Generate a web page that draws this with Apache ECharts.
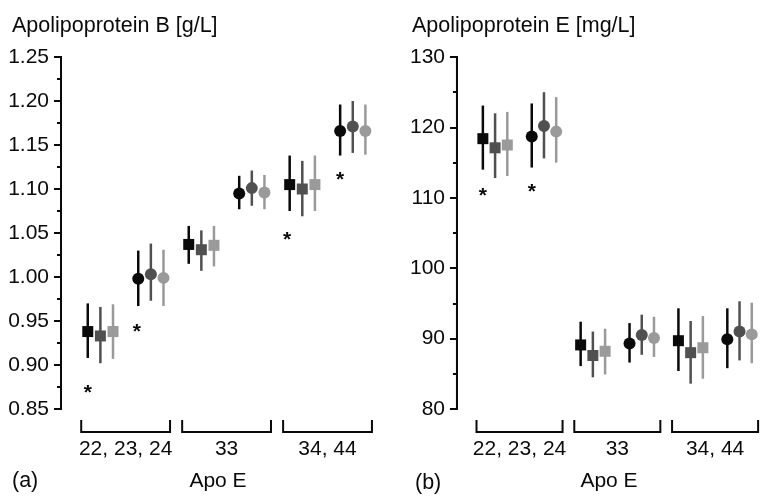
<!DOCTYPE html>
<html>
<head>
<meta charset="utf-8">
<title>Apolipoprotein B / E</title>
<script src="https://cdn.jsdelivr.net/npm/echarts@6/dist/echarts.min.js"></script>
<style>
    html, body { margin: 0; padding: 0; background: #fff; }
    #main { width: 763px; height: 497px; }
</style>
</head>
<body>
<div id="main"></div>
<script>
// Apo E phenotype groups
var groups = ['22, 23, 24', '33', '34, 44'];
// marker position inside a group (squares then circles, black/dark/light)
var offsets = [-0.375, -0.25, -0.125, 0.125, 0.25, 0.375];
var shapes = ['rect', 'rect', 'rect', 'circle', 'circle', 'circle'];
var colors = ['#0a0a0a', '#505050', '#9a9a9a', '#0a0a0a', '#505050', '#9a9a9a'];

// Apolipoprotein B [g/L]: one row per marker, one value per group
var apoBMean = [
    [0.938, 1.037, 1.105],
    [0.933, 1.031, 1.100],
    [0.938, 1.036, 1.105],
    [0.998, 1.095, 1.166],
    [1.003, 1.101, 1.171],
    [0.999, 1.096, 1.166]
];
var apoBLow = [
    [0.908, 1.015, 1.075],
    [0.902, 1.007, 1.069],
    [0.907, 1.012, 1.075],
    [0.967, 1.077, 1.138],
    [0.973, 1.081, 1.141],
    [0.967, 1.077, 1.139]
];
var apoBHigh = [
    [0.970, 1.058, 1.138],
    [0.966, 1.053, 1.132],
    [0.969, 1.058, 1.138],
    [1.030, 1.115, 1.196],
    [1.038, 1.121, 1.200],
    [1.031, 1.116, 1.196]
];
// asterisks: [group offset, value]
var apoBStars = [[-0.375, 0.8735], [0.11, 0.9435], [1.6, 1.048], [2.125, 1.116]];

// Apolipoprotein E [mg/L]
var apoEMean = [
    [118.4, 89.1, 89.7],
    [117.1, 87.6, 88.0],
    [117.5, 88.2, 88.7],
    [118.7, 89.3, 89.9],
    [120.2, 90.5, 91.0],
    [119.4, 90.1, 90.6]
];
var apoELow = [
    [114.0, 86.1, 85.4],
    [112.8, 84.5, 83.6],
    [113.1, 84.9, 84.3],
    [114.3, 86.6, 85.8],
    [115.6, 87.7, 86.9],
    [115.0, 87.4, 86.5]
];
var apoEHigh = [
    [123.1, 92.4, 94.3],
    [122.0, 91.0, 92.5],
    [122.2, 91.4, 93.2],
    [123.4, 92.2, 94.3],
    [125.0, 93.4, 95.3],
    [124.3, 93.1, 95.1]
];
var apoEStars = [[-0.375, 111.0], [0.125, 111.5]];

var font = 'Liberation Sans, Arial, sans-serif';
var ink = '#0a0a0a';
// the y axis sits on x = 0, the first group sits this far to the right
var lead = 0.64;

function pointSeries(panel, i, mean, low, high) {
    return {
        type: 'custom',
        xAxisIndex: panel,
        yAxisIndex: panel,
        encode: { x: 0, y: 1 },
        data: groups.map(function (g, j) {
            return [lead + j + offsets[i], mean[i][j], low[i][j], high[i][j]];
        }),
        renderItem: function (params, api) {
            var x = api.value(0);
            var c = api.coord([x, api.value(1)]);
            var lo = api.coord([x, api.value(2)]);
            var hi = api.coord([x, api.value(3)]);
            var mark = shapes[i] === 'rect'
                ? { type: 'rect', shape: { x: c[0] - 5.5, y: c[1] - 5.5, width: 11, height: 11 }, style: { fill: colors[i] } }
                : { type: 'circle', shape: { cx: c[0], cy: c[1], r: 6 }, style: { fill: colors[i] } };
            return {
                type: 'group',
                children: [
                    { type: 'line', shape: { x1: c[0], y1: lo[1], x2: c[0], y2: hi[1] }, style: { stroke: colors[i], lineWidth: 2.5 } },
                    mark
                ]
            };
        }
    };
}

function bracketSeries(panel, yMin) {
    return {
        type: 'custom',
        xAxisIndex: panel,
        yAxisIndex: panel,
        clip: false,
        silent: true,
        data: groups.map(function (g, j) { return [lead + j, yMin]; }),
        renderItem: function (params, api) {
            var p = api.coord([api.value(0), api.value(1)]);
            var half = api.size([0.44, 0])[0];
            var top = p[1] + 11, bottom = p[1] + 23;
            return {
                type: 'polyline',
                shape: { points: [[p[0] - half, top], [p[0] - half, bottom], [p[0] + half, bottom], [p[0] + half, top]] },
                style: { stroke: ink, lineWidth: 2, fill: null }
            };
        }
    };
}

// vertical axis line, drawn as a thin filled bar through the axis scale
function spineSeries(panel, yMin, yMax) {
    return {
        type: 'custom',
        xAxisIndex: panel,
        yAxisIndex: panel,
        clip: false,
        z: 20,
        encode: { x: 0, y: 1 },
        data: [[0, yMin, yMax]],
        renderItem: function (params, api) {
            var a = api.coord([api.value(0), api.value(1)]);
            var b = api.coord([api.value(0), api.value(2)]);
            return {
                type: 'rect',
                shape: { x: a[0] - 1, y: b[1] - 1, width: 2, height: a[1] - b[1] + 2 },
                style: { fill: ink }
            };
        }
    };
}

function starSeries(panel, stars) {
    return {
        type: 'custom',
        xAxisIndex: panel,
        yAxisIndex: panel,
        data: stars.map(function (s) { return [lead + s[0], s[1]]; }),
        renderItem: function (params, api) {
            var p = api.coord([api.value(0), api.value(1)]);
            return {
                type: 'text',
                x: p[0],
                y: p[1] + 5,
                style: { text: '*', fontSize: 21, fontWeight: 'bold', fontFamily: font, fill: ink, align: 'center', verticalAlign: 'middle' }
            };
        }
    };
}

function xAxisFor(panel) {
    return {
        type: 'value',
        gridIndex: panel,
        min: -0.02,
        max: 3.13,
        name: 'Apo E',
        nameLocation: 'middle',
        nameGap: 62,
        nameTextStyle: { fontSize: 21, color: ink, fontFamily: font },
        axisLine: { show: false },
        axisTick: { show: false },
        splitLine: { show: false },
        axisLabel: {
            customValues: groups.map(function (g, j) { return lead + j; }),
            formatter: function (v) { return groups[Math.round(v - lead)] || ''; },
            margin: 30,
            fontSize: 21,
            color: ink,
            fontFamily: font
        }
    };
}

function yAxisFor(panel, min, max, step, digits) {
    return {
        type: 'value',
        gridIndex: panel,
        min: min,
        max: max,
        interval: step,
        axisLine: { show: true, lineStyle: { color: ink, width: 2 } },
        axisTick: { show: true, length: 7, lineStyle: { color: ink, width: 2 } },
        minorTick: { show: true, splitNumber: 2, length: 4, lineStyle: { color: ink, width: 2 } },
        splitLine: { show: false },
        axisLabel: {
            margin: 10,
            fontSize: 21,
            color: ink,
            fontFamily: font,
            formatter: function (v) { return v.toFixed(digits); }
        }
    };
}

var series = [];
for (var i = 0; i < 6; i++) series.push(pointSeries(0, i, apoBMean, apoBLow, apoBHigh));
for (var i = 0; i < 6; i++) series.push(pointSeries(1, i, apoEMean, apoELow, apoEHigh));
series.push(bracketSeries(0, 0.85), bracketSeries(1, 80));
series.push(spineSeries(0, 0.85, 1.25), spineSeries(1, 80, 130));
series.push(starSeries(0, apoBStars), starSeries(1, apoEStars));

var titleStyle = { fontSize: 21.5, fontWeight: 'normal', color: ink, fontFamily: font };

var myChart = echarts.init(document.getElementById('main'));
myChart.setOption({
    animation: false,
    title: [
        { text: 'Apolipoprotein B [g/L]', left: 12, top: 15, padding: 0, textStyle: titleStyle },
        { text: 'Apolipoprotein E [mg/L]', left: 412, top: 15, padding: 0, textStyle: titleStyle },
        { text: '(a)', left: 12, top: 470, padding: 0, textStyle: titleStyle },
        { text: '(b)', left: 415, top: 472, padding: 0, textStyle: titleStyle }
    ],
    grid: [
        { left: 59, top: 57, width: 318, height: 352 },
        { left: 455, top: 57, width: 318, height: 353 }
    ],
    xAxis: [xAxisFor(0), xAxisFor(1)],
    yAxis: [yAxisFor(0, 0.85, 1.25, 0.05, 2), yAxisFor(1, 80, 130, 10, 0)],
    series: series
});
</script>
</body>
</html>
